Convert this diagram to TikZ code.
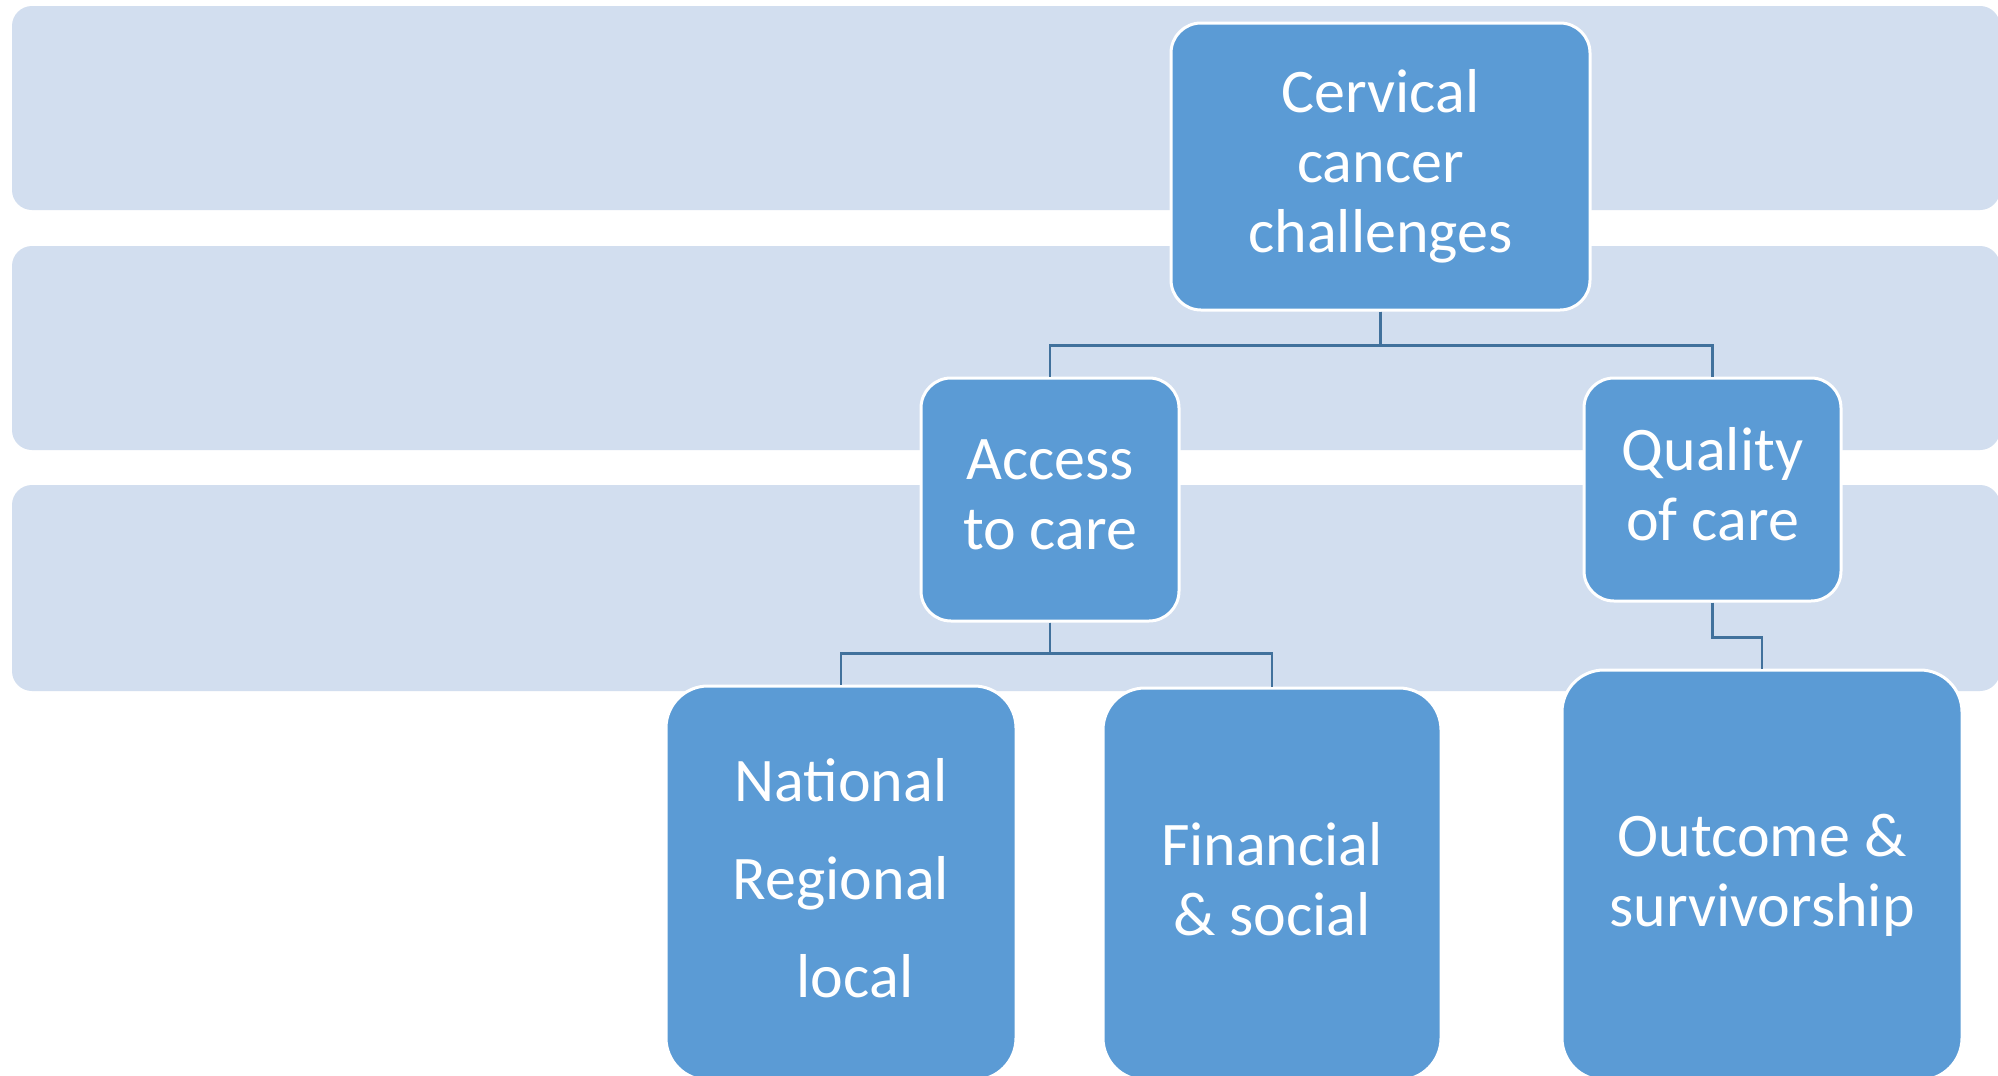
\documentclass[tikz,border=0pt]{standalone}
\usepackage{fontspec}
\setmainfont{Carlito}
\definecolor{bandc}{HTML}{D2DEEF}
\definecolor{boxc}{HTML}{5B9BD5}
\definecolor{connc}{HTML}{41719C}
\newcommand\dsc{\vphantom{g}}
\tikzset{
  band/.style={fill=bandc, draw=none, rounded corners=20pt},
  boxn/.style={rectangle, fill=boxc, draw=white, line width=3pt, inner sep=0pt,
    text=white, align=center, font=\fontsize{62}{70}\selectfont},
  conn/.style={draw=connc, line width=2.5pt},
}
\begin{document}
\begin{tikzpicture}[x=1pt,y=-1pt]
\useasboundingbox (0,0) rectangle (1998,1076);
\clip (0,0) rectangle (1998,1076);
\fill[white] (0,0) rectangle (1998,1076);
% background bands
\path[band] (12,6) rectangle (2000,210);
\path[band] (12,246) rectangle (2000,450);
\path[band] (12,485) rectangle (2000,691);
% boxes
\node[boxn, rounded corners=30pt, minimum width=419pt, minimum height=287pt] (top) at (1380.5,166.5) {Cervical\\cancer\\challenges};
\node[boxn, rounded corners=30pt, minimum width=258pt, minimum height=243pt] (access) at (1050,499.5) {Access\\to care\dsc};
\node[boxn, rounded corners=30pt, minimum width=257pt, minimum height=223pt] (quality) at (1712.5,489.5) {Quality\\of care\dsc};
\node[boxn, rounded corners=42pt, minimum width=350pt, minimum height=394pt, font=\fontsize{62}{98}\selectfont] (national) at (841,883) {National\\Regional\\\hspace*{28pt}local\dsc};
\node[boxn, rounded corners=42pt, minimum width=338pt, minimum height=392pt] (financial) at (1272,884) {Financial\\\& social\dsc};
\node[boxn, rounded corners=42pt, minimum width=400pt, minimum height=410pt] (outcome) at (1762,875) {Outcome \&\\survivorship};
% connectors
\draw[conn] (top.south) -- ++(0,34) -| (access.north);
\draw[conn] (top.south) -- ++(0,34) -| (quality.north);
\draw[conn] (access.south) -- ++(0,31) -| (national.north);
\draw[conn] (access.south) -- ++(0,31) -| (financial.north);
\draw[conn] (quality.south) -- ++(0,35) -| (outcome.north);
\end{tikzpicture}
\end{document}
